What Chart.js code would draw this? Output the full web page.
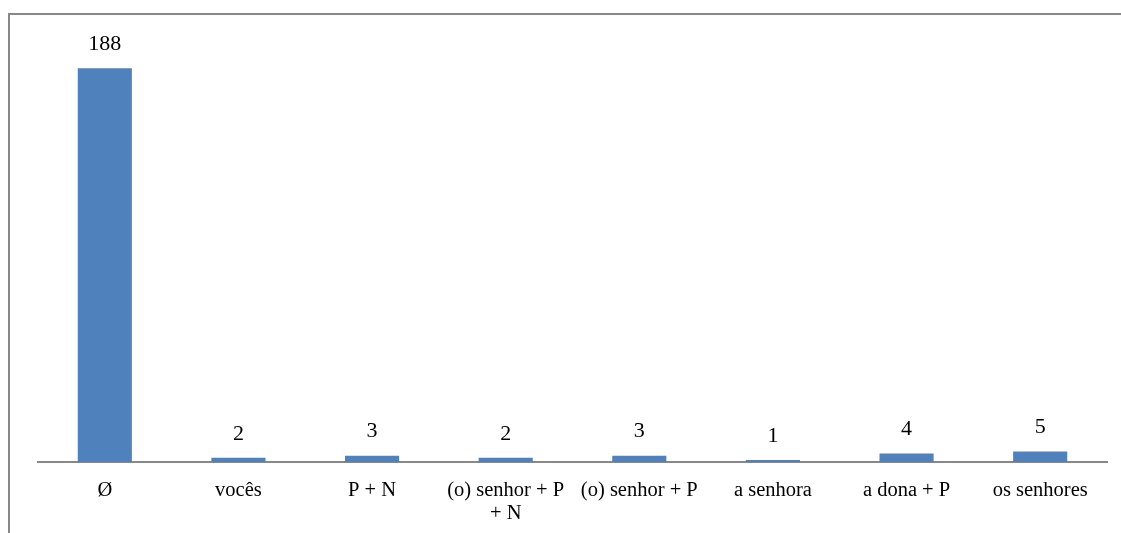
<!DOCTYPE html>
<html>
<head>
<meta charset="utf-8">
<script src="https://cdn.jsdelivr.net/npm/chart.js@4"></script>
<style>
  body { margin: 0; background: #fff; overflow: hidden; }
  #wrap { position: relative; width: 1121px; height: 533px; }
  #frame {
    position: absolute; left: 8px; top: 13px; width: 1200px; height: 600px;
    border-top: 2px solid #888; border-left: 2px solid #888;
  }
  #chart { position: absolute; left: 0; top: 0; }
</style>
</head>
<body>
<div id="wrap">
  <div id="frame"></div>
  <canvas id="chart" width="1121" height="533"></canvas>
</div>
<script>
// categories and counts
const categories = [
  "Ø",
  "vocês",
  "P + N",
  ["(o) senhor + P", "+ N"],
  "(o) senhor + P",
  "a senhora",
  "a dona + P",
  "os senhores",
];
const counts = [188, 2, 3, 2, 3, 1, 4, 5];

//value labels above the bars
const valueLabels = {
  id: "valueLabels",
  afterDatasetsDraw(chart) {
    const ctx = chart.ctx;
    const meta = chart.getDatasetMeta(0);
    ctx.save();
    ctx.font = "22px 'Liberation Serif'";
    ctx.fillStyle = "#000";
    ctx.textAlign = "center";
    ctx.textBaseline = "middle";
    meta.data.forEach((bar, i) => {
      ctx.fillText(String(counts[i]), bar.x, bar.y - 24);
    });
    ctx.restore();
  },
};

const canvas = document.getElementById("chart");
new Chart(canvas, {
  type: "bar",
  data: {
    labels: categories,
    datasets: [
      {
        label: "count",
        data: counts,
        backgroundColor: "#4f81bd",
        borderWidth: 0,
        categoryPercentage: 1,
        barPercentage: 0.405,
      },
    ],
  },
  options: {
    responsive: false,
    animation: false,
    layout: { padding: { left: 38, right: 14, top: 43, bottom: 0 } },
    plugins: {
      legend: { display: false },
      tooltip: { enabled: false },
    },
    scales: {
      y: {
        display: false,
        min: 0,
        max: 200,
      },
      x: {
        grid: { display: false, drawTicks: false },
        border: { display: true, color: "#888", width: 2 },
        ticks: {
          color: "#000",
          padding: 17,
          maxRotation: 0,
          autoSkip: false,
          font: { family: "Liberation Serif", size: 20.5, lineHeight: 1.12 },
        },
        afterFit(scale) {
          scale.height = 71;
        },
      },
    },
  },
  plugins: [valueLabels],
});
</script>
</body>
</html>
